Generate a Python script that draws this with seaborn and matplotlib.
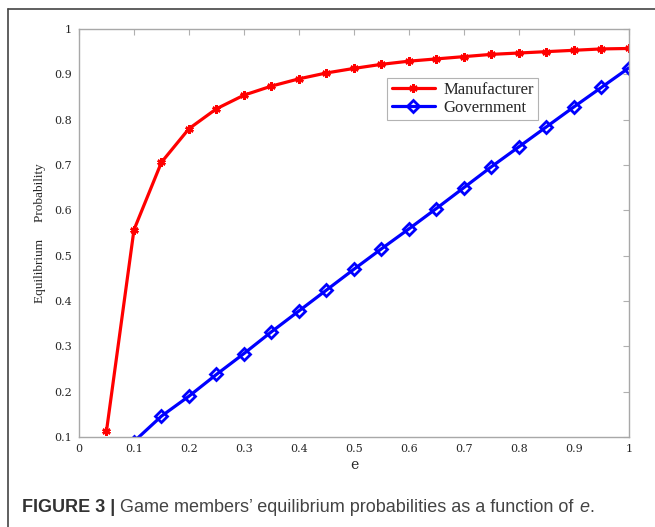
import pandas as pd
import matplotlib.pyplot as plt
import seaborn as sns
from matplotlib.lines import Line2D

# values
e_manu = [0.05, 0.10, 0.15, 0.20, 0.25, 0.30, 0.35, 0.40, 0.45, 0.50,
          0.55, 0.60, 0.65, 0.70, 0.75, 0.80, 0.85, 0.90, 0.95, 1.00]
p_manu = [0.113, 0.557, 0.706, 0.780, 0.824, 0.854, 0.874, 0.890, 0.903, 0.913,
          0.922, 0.929, 0.934, 0.939, 0.944, 0.947, 0.950, 0.953, 0.956, 0.957]

e_gov = [0.10, 0.15, 0.20, 0.25, 0.30, 0.35, 0.40, 0.45, 0.50,
         0.55, 0.60, 0.65, 0.70, 0.75, 0.80, 0.85, 0.90, 0.95, 1.00]
p_gov = [0.090, 0.146, 0.190, 0.238, 0.284, 0.332, 0.378, 0.424, 0.470,
         0.515, 0.559, 0.604, 0.650, 0.696, 0.740, 0.784, 0.828, 0.871, 0.914]

x_ticks = [0, 0.1, 0.2, 0.3, 0.4, 0.5, 0.6, 0.7, 0.8, 0.9, 1]
x_labels = ["0", "0.1", "0.2", "0.3", "0.4", "0.5", "0.6", "0.7", "0.8", "0.9", "1"]
y_ticks = [0.1, 0.2, 0.3, 0.4, 0.5, 0.6, 0.7, 0.8, 0.9, 1]
y_labels = ["0.1", "0.2", "0.3", "0.4", "0.5", "0.6", "0.7", "0.8", "0.9", "1"]

df_m = pd.DataFrame({"e": e_manu, "p": p_manu})
df_g = pd.DataFrame({"e": e_gov, "p": p_gov})

sns.set_style("white")
plt.rcParams["font.family"] = ["Liberation Serif", "DejaVu Serif"]

fig = plt.figure(figsize=(6.55, 5.27), dpi=100)
ax = fig.add_axes([0.1206, 0.1708, 0.8394, 0.7742])

sns.lineplot(data=df_m, x="e", y="p", ax=ax, color="#ff0000", linewidth=2.3,
             marker=(6, 2, 0), markersize=6, markeredgewidth=1.8,
             markeredgecolor="#ff0000", label="Manufacturer")
sns.lineplot(data=df_g, x="e", y="p", ax=ax, color="#0000ff", linewidth=2.3,
             marker="D", markersize=6, markerfacecolor="none",
             markeredgewidth=2, markeredgecolor="#0000ff", label="Government")

ax.set_xlim(0, 1)
ax.set_ylim(0.1, 1)
ax.set_xticks(x_ticks)
ax.set_xticklabels(x_labels)
ax.set_yticks(y_ticks)
ax.set_yticklabels(y_labels)
ax.tick_params(direction="in", length=4, width=0.8, color="#b0b0b0",
               labelsize=8, top=True, right=True, pad=5)
for lab in ax.get_xticklabels() + ax.get_yticklabels():
    lab.set_family("DejaVu Serif")
for s in ax.spines.values():
    s.set_color("#a8a8a8")
    s.set_linewidth(1)

ax.set_xlabel("e", fontsize=10, labelpad=3, family="DejaVu Serif")
ax.set_ylabel("Equilibrium     Probability", fontsize=9.5, labelpad=6)

leg = ax.legend(loc="upper left", bbox_to_anchor=(0.561, 0.880), fontsize=12,
                frameon=True, fancybox=False, edgecolor="#a0a0a0",
                handlelength=2.6, borderpad=0.25, labelspacing=0.1,
                handletextpad=0.5, borderaxespad=0)
leg.get_frame().set_linewidth(0.8)

# outer frame (left and top edges visible)
fig.add_artist(Line2D([8 / 655, 8 / 655], [0, 1 - 9 / 527], color="#444444", lw=1.2))
fig.add_artist(Line2D([8 / 655, 1], [1 - 9 / 527, 1 - 9 / 527], color="#444444", lw=1.2))

# caption
cap_y = 0.028
t1 = fig.text(22 / 655, cap_y, "FIGURE 3 |", fontsize=13, fontweight="bold",
              family="Liberation Sans", color="#333333", va="baseline")
fig.canvas.draw()
r = fig.canvas.get_renderer()
bb = t1.get_window_extent(r)
t2 = fig.text((bb.x1 + 5) / 655, cap_y, "Game members\u2019 equilibrium probabilities as a function of ",
              fontsize=13, family="Liberation Sans", color="#444444", va="baseline")
fig.canvas.draw()
bb2 = t2.get_window_extent(r)
t3 = fig.text((bb2.x1 + 1) / 655, cap_y, "e", fontsize=13, family="Liberation Sans",
              style="italic", color="#444444", va="baseline")
fig.canvas.draw()
bb3 = t3.get_window_extent(r)
fig.text(bb3.x1 / 655, cap_y, ".", fontsize=13, family="Liberation Sans",
         color="#444444", va="baseline")

fig.savefig("out.png", dpi=100)
